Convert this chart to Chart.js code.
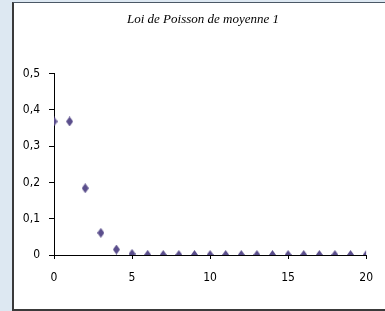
<!DOCTYPE html>
<html lang="fr">
<head>
    <meta charset="UTF-8">
    <title>Loi de Poisson de moyenne 1</title>
    <script src="https://cdn.jsdelivr.net/npm/chart.js"></script>
    <style>
        body { margin: 0; background: #dde8f2; width: 385px; height: 311px; overflow: hidden; }
        #panel {
            position: absolute; left: 12px; top: 2px; width: 371px; height: 306px;
            background: #fff; border-left: 2px solid #3a3a3a; border-top: 1px solid #4a5866;
            border-bottom: 2px solid #3a3a3a;
        }
    </style>
</head>
<body>
    <div id="panel"><canvas id="poissonChart" width="371" height="306"></canvas></div>

    <script>
        // k = 0..20, P(X = k) for Poisson(1)
        const kValues = [0, 1, 2, 3, 4, 5, 6, 7, 8, 9, 10, 11, 12, 13, 14, 15, 16, 17, 18, 19, 20];
        const probabilities = [0.368, 0.368, 0.184, 0.061, 0.015, 0.003, 0.0005, 0, 0, 0, 0, 0, 0, 0, 0, 0, 0, 0, 0, 0, 0];
        const xTicks = [0, 5, 10, 15, 20];
        const yTicks = [0, 0.1, 0.2, 0.3, 0.4, 0.5];

        // tall diamond marker
        const marker = document.createElement('canvas');
        marker.width = 7; marker.height = 10;
        const m = marker.getContext('2d');
        m.fillStyle = '#5a4e8c';
        m.beginPath();
        m.moveTo(3.5, 0); m.lineTo(7, 5); m.lineTo(3.5, 10); m.lineTo(0, 5);
        m.closePath(); m.fill();

        const points = kValues.map((k, i) => ({ x: k, y: probabilities[i] }));
        const tickFont = { family: '"Liberation Sans Narrow", "Arial Narrow", "DejaVu Sans Condensed", sans-serif', size: 12 };

        // the original title sits a bit right of the canvas centre
        const titleShift = {
            id: 'titleShift',
            afterLayout(chart) {
                if (chart.titleBlock) chart.titleBlock.left += 24;
            }
        };

        new Chart(document.getElementById('poissonChart'), {
            type: 'scatter',
            data: {
                datasets: [{
                    data: points,
                    pointStyle: marker,
                    backgroundColor: '#5a4e8c',
                    borderColor: '#5a4e8c'
                }]
            },
            options: {
                responsive: false,
                animation: false,
                layout: { padding: { left: 0, right: 17, top: 0, bottom: 0 } },
                plugins: {
                    legend: { display: false },
                    tooltip: { enabled: false },
                    title: {
                        display: true,
                        text: 'Loi de Poisson de moyenne 1',
                        color: '#000',
                        font: { family: 'Liberation Serif, serif', size: 13, style: 'italic', weight: 'normal' },
                        padding: { top: 9, bottom: 46 }
                    }
                },
                scales: {
                    x: {
                        type: 'linear',
                        min: 0,
                        max: 20,
                        afterFit: s => { s.height = 54; },
                        afterBuildTicks: s => { s.ticks = xTicks.map(v => ({ value: v })); },
                        border: { color: '#000', width: 1 },
                        grid: { drawOnChartArea: false, color: '#000', tickLength: 4 },
                        ticks: { color: '#000', font: tickFont, padding: 12, maxRotation: 0 }
                    },
                    y: {
                        min: 0,
                        max: 0.5,
                        afterFit: s => { s.width = 40; },
                        afterBuildTicks: s => { s.ticks = yTicks.map(v => ({ value: v })); },
                        border: { color: '#000', width: 1 },
                        grid: { drawOnChartArea: false, color: '#000', tickLength: 5 },
                        ticks: {
                            color: '#000', font: tickFont, padding: 9,
                            callback: v => v === 0 ? '0' : v.toFixed(1).replace('.', ',')
                        }
                    }
                }
            },
            plugins: [titleShift]
        });
    </script>
</body>
</html>
